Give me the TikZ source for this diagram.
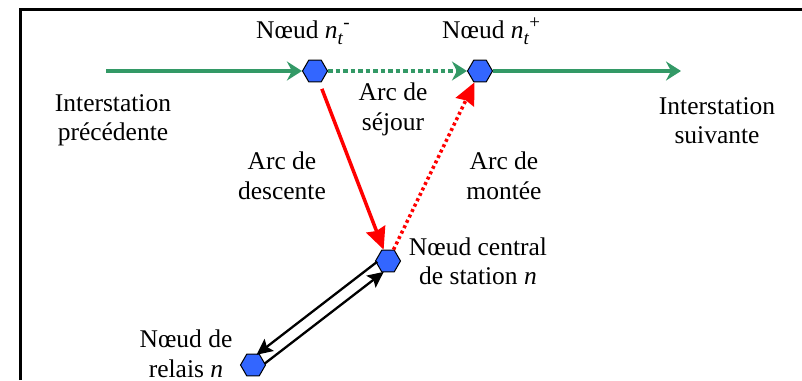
\documentclass[tikz,border=0pt]{standalone}
\usepackage{fontspec}
\setmainfont{Liberation Serif}
\usetikzlibrary{arrows.meta,shapes.geometric,calc}
\definecolor{arcgreen}{HTML}{339966}
\definecolor{arcred}{HTML}{FF0000}
\definecolor{hexblue}{HTML}{3366FF}
\newcommand{\ntsub}[1]{\textit{n}\raisebox{-6pt}{\fontsize{19}{19}\selectfont\textit{t}}\raisebox{10pt}{\fontsize{19}{19}\selectfont #1}}

\begin{document}
\begin{tikzpicture}[x=1pt,y=-1pt,
      hexa/.style={regular polygon,regular polygon sides=6,draw=black,line width=1pt,fill=hexblue,minimum size=25pt,inner sep=0pt},
      lbl/.style={align=center,inner sep=0pt,font=\fontsize{25.5}{29.5}\selectfont},
      grn/.style={-{Stealth[length=15pt,width=19pt,inset=5pt]},line width=3.5pt,draw=arcgreen},
      rd/.style={-{Stealth[length=22pt,width=20pt,inset=2pt]},line width=3.5pt,draw=arcred},
      blk/.style={-{Stealth[length=16pt,width=15pt,inset=3pt]},line width=2.3pt,draw=black}]
    \useasboundingbox (0,0) rectangle (802,380);
    \draw[line width=3pt] (20,380) -- (20,9) -- (802,9);
    \node[hexa] (ntm) at (315,71) {};
    \node[hexa] (ntp) at (480,71) {};
    \node[hexa] (cen) at (388,261) {};
    \node[hexa] (rel) at (253,365) {};
    \coordinate (prev) at (106,71);
    \coordinate (next) at (681,71);
    \node[lbl,anchor=base west] (lntm) at (256,38) {Nœud \ntsub{-}};
    \node[lbl,anchor=base west] (lntp) at (442,38) {Nœud \ntsub{+}};
    \node[lbl] (lprev) at (113,120.5) {Interstation\\précédente};
    \node[lbl] (lnext) at (717,120.5) {Interstation\\suivante};
    \node[lbl] (lsej) at (393,109.5) {Arc de\\séjour};
    \node[lbl] (ldesc) at (282,176) {Arc de\\descente};
    \node[lbl] (lmont) at (504,176) {Arc de\\montée};
    \node[lbl] (lcen) at (478,261.5) {Nœud central\\de station \textit{n}};
    \node[lbl] (lrel) at (186,354) {Nœud de\\relais \textit{n}};
    \draw[grn] (prev) -- (ntm);
    \draw[grn,dash pattern=on 4.5pt off 3pt] (ntm) -- (ntp);
    \draw[grn] (ntp) -- (next);
    \draw[rd,shorten <=7pt] (ntm) -- (cen);
    \draw[rd,dash pattern=on 3pt off 3pt] (cen) -- (ntp);
    \draw[blk,shorten <=9pt,shorten >=9pt] ($(cen.center)!6pt!-90:(rel.center)$) -- ($(rel.center)!6pt!90:(cen.center)$);
    \draw[blk,shorten <=10pt,shorten >=10pt] ($(rel.center)!6pt!-90:(cen.center)$) -- ($(cen.center)!6pt!90:(rel.center)$);
  \end{tikzpicture}
\end{document}
